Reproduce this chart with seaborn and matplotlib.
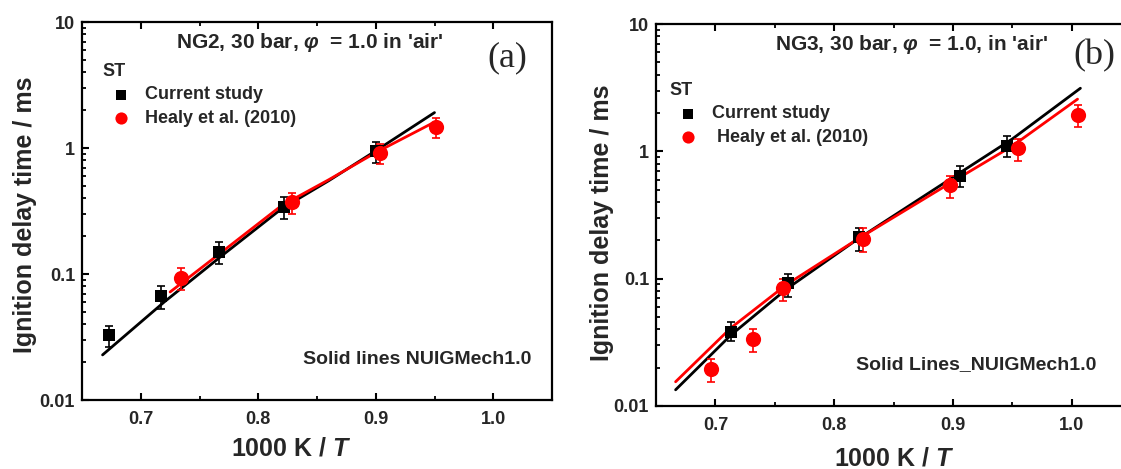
import numpy as np
import pandas as pd
import matplotlib
matplotlib.use("Agg")
import matplotlib.pyplot as plt
import seaborn as sns
from matplotlib.ticker import FixedLocator, FixedFormatter, LogLocator, NullFormatter, MultipleLocator

# ---------------- data ----------------
# Panel (a) NG2
a_cs_x = [0.673, 0.717, 0.767, 0.822, 0.900]
a_cs_y = [0.0326, 0.0668, 0.149, 0.342, 0.946]
a_cs_lo = [0.0265, 0.053, 0.12, 0.273, 0.76]
a_cs_hi = [0.039, 0.080, 0.18, 0.41, 1.11]

a_h_x = [0.734, 0.829, 0.9035, 0.951]
a_h_y = [0.0935, 0.371, 0.918, 1.476]
a_h_lo = [0.074, 0.297, 0.74, 1.19]
a_h_hi = [0.111, 0.44, 1.07, 1.73]

a_mod_cs_x = [0.6675, 0.70, 0.72, 0.77, 0.82, 0.86, 0.90, 0.95]
a_mod_cs_y = [0.0228, 0.0415, 0.060, 0.142, 0.33, 0.55, 0.95, 1.91]
a_mod_h_x = [0.725, 0.77, 0.82, 0.86, 0.90, 0.948]
a_mod_h_y = [0.072, 0.152, 0.35, 0.56, 0.92, 1.57]

# Panel (b) NG3
b_cs_x = [0.7132, 0.761, 0.8213, 0.9063, 0.9455]
b_cs_y = [0.0384, 0.092, 0.2115, 0.641, 1.11]
b_cs_lo = [0.0322, 0.072, 0.164, 0.52, 0.90]
b_cs_hi = [0.046, 0.108, 0.25, 0.77, 1.32]

b_h_x = [0.6967, 0.7314, 0.757, 0.8243, 0.8973, 0.9552, 1.005]
b_h_y = [0.0195, 0.0336, 0.0849, 0.204, 0.545, 1.07, 1.93]
b_h_lo = [0.0155, 0.0267, 0.0667, 0.162, 0.43, 0.84, 1.54]
b_h_hi = [0.0233, 0.0403, 0.0993, 0.25, 0.64, 1.26, 2.3]

b_mod_cs_x = [0.6665, 0.713, 0.76, 0.82, 0.90, 0.95, 1.0074]
b_mod_cs_y = [0.0134, 0.036, 0.083, 0.205, 0.625, 1.25, 3.13]
b_mod_h_x = [0.6665, 0.713, 0.76, 0.82, 0.90, 0.95, 1.005]
b_mod_h_y = [0.0155, 0.041, 0.09, 0.205, 0.58, 1.1, 2.57]

x_ticks = [0.7, 0.8, 0.9, 1.0]
x_tick_labels = ["0.7", "0.8", "0.9", "1.0"]
y_ticks = [0.01, 0.1, 1, 10]
y_tick_labels = ["0.01", "0.1", "1", "10"]

# ---------------- style ----------------
sns.set_style("ticks")
plt.rcParams["font.family"] = ["Liberation Sans", "DejaVu Sans"]
plt.rcParams["font.weight"] = "bold"
plt.rcParams["mathtext.fontset"] = "custom"
plt.rcParams["mathtext.rm"] = "Liberation Sans:bold"
plt.rcParams["mathtext.it"] = "Liberation Sans:italic:bold"
plt.rcParams["mathtext.bf"] = "Liberation Sans:bold"

W, H = 1121, 469
fig = plt.figure(figsize=(W / 100, H / 100), dpi=100)


def px_ax(l, t, r, b):
    return fig.add_axes([l / W, 1 - b / H, (r - l) / W, (b - t) / H])


ax_a = px_ax(82, 22, 552, 400)
ax_b = px_ax(656, 24, 1131, 406)

RED = "#ff0000"


def draw(ax, cs_x, cs_y, cs_lo, cs_hi, h_x, h_y, h_lo, h_hi, mcx, mcy, mhx, mhy, h_label):
    sns.lineplot(x=mcx, y=mcy, color="black", lw=2.0, ax=ax, sort=False,
                 estimator=None, zorder=3)
    sns.lineplot(x=mhx, y=mhy, color=RED, lw=2.0, ax=ax, sort=False,
                 estimator=None, zorder=4)
    cs_y_a = np.array(cs_y)
    h_y_a = np.array(h_y)
    ax.errorbar(cs_x, cs_y, yerr=[cs_y_a - np.array(cs_lo), np.array(cs_hi) - cs_y_a],
                fmt="none", ecolor="black", elinewidth=1.2, capsize=3, capthick=1.2, zorder=5)
    ax.errorbar(h_x, h_y, yerr=[h_y_a - np.array(h_lo), np.array(h_hi) - h_y_a],
                fmt="none", ecolor=RED, elinewidth=1.2, capsize=3, capthick=1.2, zorder=5)
    sns.scatterplot(x=cs_x, y=cs_y, marker="s", s=75, color="black", linewidth=0,
                    ax=ax, zorder=6, label="Current study")
    sns.scatterplot(x=h_x, y=h_y, marker="o", s=120, color=RED, linewidth=0,
                    ax=ax, zorder=6, label=h_label)

    ax.set_yscale("log")
    ax.set_xlim(0.65, 1.05)
    ax.set_ylim(0.01, 10)
    ax.xaxis.set_major_locator(FixedLocator(x_ticks))
    ax.xaxis.set_major_formatter(FixedFormatter(x_tick_labels))
    ax.xaxis.set_minor_locator(MultipleLocator(0.05))
    ax.yaxis.set_major_locator(FixedLocator(y_ticks))
    ax.yaxis.set_major_formatter(FixedFormatter(y_tick_labels))
    ax.yaxis.set_minor_locator(LogLocator(base=10, subs=np.arange(2, 10)))
    ax.yaxis.set_minor_formatter(NullFormatter())
    ax.tick_params(axis="both", which="major", labelsize=13, width=1.5, length=5,
                   color="black", pad=5)
    ax.tick_params(axis="both", which="minor", width=1.3, length=3, color="black")
    ax.tick_params(axis="x", which="both", direction="in", top=True, bottom=True)
    ax.tick_params(axis="x", which="major", pad=8)
    ax.tick_params(axis="y", which="both", direction="in", left=True, right=False)
    for lab in ax.get_xticklabels() + ax.get_yticklabels():
        lab.set_fontweight("bold")
    for sp in ax.spines.values():
        sp.set_visible(True)
        sp.set_linewidth(1.6)
        sp.set_color("black")
    ax.set_xlabel("1000 K / $\\mathit{T}$", fontsize=18, fontweight="bold")
    ax.set_ylabel("Ignition delay time / ms", fontsize=18, fontweight="bold")


draw(ax_a, a_cs_x, a_cs_y, a_cs_lo, a_cs_hi, a_h_x, a_h_y, a_h_lo, a_h_hi,
     a_mod_cs_x, a_mod_cs_y, a_mod_h_x, a_mod_h_y, "Healy et al. (2010)")
draw(ax_b, b_cs_x, b_cs_y, b_cs_lo, b_cs_hi, b_h_x, b_h_y, b_h_lo, b_h_hi,
     b_mod_cs_x, b_mod_cs_y, b_mod_h_x, b_mod_h_y, " Healy et al. (2010)")

# axis label placement (figure pixels)
ax_a.xaxis.set_label_coords(291 / W, 1 - 436 / H, transform=fig.transFigure)
ax_b.xaxis.set_label_coords(894 / W, 1 - 446 / H, transform=fig.transFigure)
ax_a.yaxis.set_label_coords(37 / W, 1 - 215 / H, transform=fig.transFigure)
ax_b.yaxis.set_label_coords(614 / W, 1 - 223 / H, transform=fig.transFigure)

# legends
for ax, (lx, ly) in [(ax_a, (102, 63)), (ax_b, (669, 82))]:
    leg = ax.legend(title="ST", loc="upper left", bbox_to_anchor=(lx / W, 1 - ly / H),
                    bbox_transform=fig.transFigure, frameon=False, fontsize=13,
                    title_fontsize=13, borderpad=0, borderaxespad=0,
                    handletextpad=0.3, labelspacing=0.35, handlelength=2.1,
                    markerscale=0.8)
    leg.get_title().set_fontweight("bold")
    leg._legend_box.align = "left"
    for t in leg.get_texts():
        t.set_fontweight("bold")

# titles and annotations
fig.text(310 / W, 1 - 43 / H, "NG2, 30 bar, $\\varphi$  = 1.0 in 'air'", ha="center",
         va="center", fontsize=15, fontweight="bold")
fig.text(912 / W, 1 - 45 / H, "NG3, 30 bar, $\\varphi$  = 1.0, in 'air'", ha="center",
         va="center", fontsize=15, fontweight="bold")
fig.text(507 / W, 1 - 58 / H, "(a)", ha="center", va="center", fontsize=26,
         family="Liberation Serif", fontweight="normal")
fig.text(1094 / W, 1 - 56 / H, "(b)", ha="center", va="center", fontsize=26,
         family="Liberation Serif", fontweight="normal")
fig.text(531 / W, 1 - 359 / H, "Solid lines NUIGMech1.0", ha="right", va="center",
         fontsize=14, fontweight="bold")
fig.text(1096 / W, 1 - 365 / H, "Solid Lines_NUIGMech1.0", ha="right", va="center",
         fontsize=14, fontweight="bold")

fig.savefig("out.png", dpi=100)
